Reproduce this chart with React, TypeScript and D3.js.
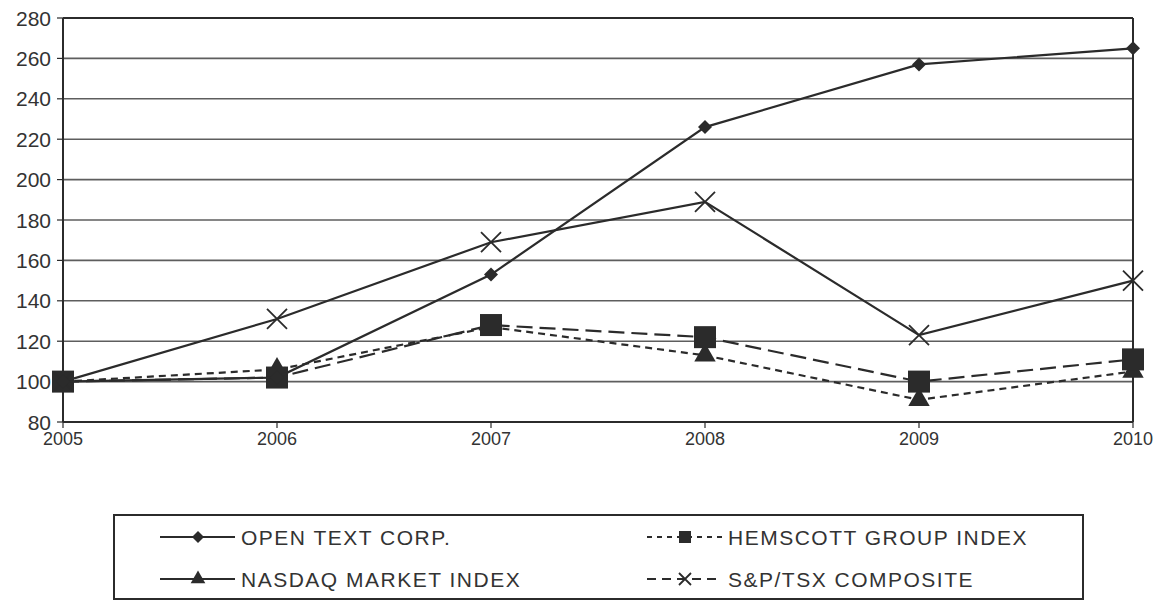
import React from 'react';
import * as d3 from 'd3';

const years = [2005, 2006, 2007, 2008, 2009, 2010];
const yTicks = [80, 100, 120, 140, 160, 180, 200, 220, 240, 260, 280];

const openText = [100, 102, 153, 226, 257, 265];
const hemscott = [100, 102, 128, 122, 100, 111];
const nasdaq = [100, 106, 127, 113, 91, 105];
const spTsx = [100, 131, 169, 189, 123, 150];

const W = 1158;
const H = 602;
const m = { left: 63, right: 1133, top: 18, bottom: 422 };
const ink = '#2b2b2b';

type Marker = 'diamond' | 'square' | 'triangle' | 'cross';

// how each series is drawn inside the plot
const plotSeries: { values: number[]; dash: string | null; marker: Marker }[] = [
  { values: nasdaq, dash: '7,5', marker: 'triangle' },
  { values: hemscott, dash: '16,7', marker: 'square' },
  { values: spTsx, dash: null, marker: 'cross' },
  { values: openText, dash: null, marker: 'diamond' },
];

// legend, drawn as printed in the original
const legendItems: { name: string; dash: string | null; marker: Marker }[] = [
  { name: 'OPEN TEXT CORP.', dash: null, marker: 'diamond' },
  { name: 'HEMSCOTT GROUP INDEX', dash: '5,5', marker: 'square' },
  { name: 'NASDAQ MARKET INDEX', dash: null, marker: 'triangle' },
  { name: 'S&P/TSX COMPOSITE', dash: '9,6', marker: 'cross' },
];

const MarkerShape: React.FC<{ kind: Marker; x: number; y: number; s: number }> = ({ kind, x, y, s }) => {
  if (kind === 'square') {
    return <rect x={x - s / 2} y={y - s / 2} width={s} height={s} fill={ink} />;
  }
  if (kind === 'diamond') {
    const h = s / 2;
    return <path d={`M${x},${y - h}L${x + h},${y}L${x},${y + h}L${x - h},${y}Z`} fill={ink} />;
  }
  if (kind === 'cross') {
    const h = s / 2;
    return (
      <path
        d={`M${x - h},${y - h}L${x + h},${y + h}M${x - h},${y + h}L${x + h},${y - h}`}
        stroke={ink}
        strokeWidth={1.8}
        fill="none"
      />
    );
  }
  const path = d3.symbol().type(d3.symbolTriangle).size(s * s * 0.55)();
  return <path d={path || ''} transform={`translate(${x},${y})`} fill={ink} />;
};

const App: React.FC = () => {
  const x = d3.scaleLinear().domain([2005, 2010]).range([m.left, m.right]);
  const y = d3.scaleLinear().domain([80, 280]).range([m.bottom, m.top]);

  const line = d3
    .line<number>()
    .x((_, i) => x(years[i]))
    .y((d) => y(d));

  const font = 'Liberation Sans, Arial, sans-serif';
  const markerSize: Record<Marker, number> = { diamond: 14, square: 22, triangle: 19, cross: 20 };
  const legendSize: Record<Marker, number> = { diamond: 12, square: 12, triangle: 13, cross: 12 };

  return (
    <svg
      width={W}
      height={H}
      style={{ position: 'absolute', left: 0, top: 0, background: '#fff' }}
      fontFamily={font}
    >
      {/* grid */}
      {yTicks.map((t) => (
        <g key={t}>
          <line
            x1={m.left}
            x2={m.right}
            y1={y(t)}
            y2={y(t)}
            stroke={t === 280 || t === 80 ? ink : '#5e5e5e'}
            strokeWidth={t === 280 || t === 80 ? 2 : 1.6}
          />
          <line x1={m.left - 6} x2={m.left} y1={y(t)} y2={y(t)} stroke={ink} strokeWidth={1.2} />
          <text x={m.left - 12} y={y(t)} dy="0.36em" textAnchor="end" fontSize={21} fill="#333">
            {t}
          </text>
        </g>
      ))}
      <line x1={m.left} x2={m.left} y1={m.top} y2={m.bottom} stroke={ink} strokeWidth={2} />
      <line x1={m.right} x2={m.right} y1={m.top} y2={m.bottom} stroke={ink} strokeWidth={2} />

      {years.map((yr) => (
        <g key={yr}>
          <line x1={x(yr)} x2={x(yr)} y1={m.bottom} y2={m.bottom + 6} stroke={ink} strokeWidth={1.2} />
          <text x={x(yr)} y={m.bottom + 23} textAnchor="middle" fontSize={18} fill="#333">
            {yr}
          </text>
        </g>
      ))}

      {/* series */}
      {plotSeries.map((s, k) => (
        <g key={k}>
          <path
            d={line(s.values) || ''}
            fill="none"
            stroke={ink}
            strokeWidth={2.2}
            strokeDasharray={s.dash || undefined}
          />
          {s.values.map((v, i) => (
            <MarkerShape key={i} kind={s.marker} x={x(years[i])} y={y(v)} s={markerSize[s.marker]} />
          ))}
        </g>
      ))}

      {/* legend */}
      <rect x={114} y={515} width={969} height={84} fill="#fff" stroke={ink} strokeWidth={2} />
      {legendItems.map((it, i) => {
        const col = i % 2;
        const row = Math.floor(i / 2);
        const lx = col === 0 ? 160 : 647;
        const ly = 537 + row * 42;
        return (
          <g key={it.name}>
            <line
              x1={lx}
              x2={lx + 75}
              y1={ly}
              y2={ly}
              stroke={ink}
              strokeWidth={2}
              strokeDasharray={it.dash || undefined}
            />
            <MarkerShape kind={it.marker} x={lx + 38} y={ly} s={legendSize[it.marker]} />
            <text x={lx + 81} y={ly} dy="0.36em" fontSize={21} letterSpacing={1.5} fill="#333">
              {it.name}
            </text>
          </g>
        );
      })}
    </svg>
  );
};

export default App;
